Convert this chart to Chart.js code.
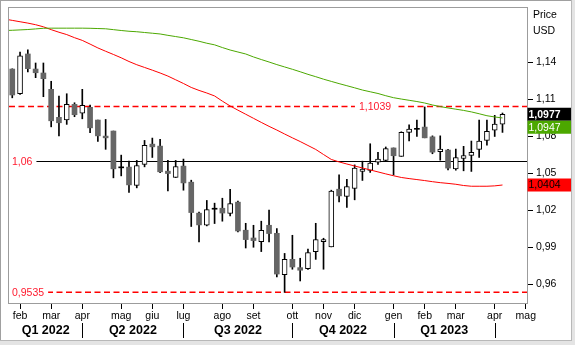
<!DOCTYPE html>
<html>
<head>
<meta charset="utf-8">
<script src="https://cdn.jsdelivr.net/npm/chart.js@4.4.1/dist/chart.umd.min.js"></script>
<style>
html,body{margin:0;padding:0;background:#fff;overflow:hidden}
canvas{display:block}
</style>
</head>
<body>
<canvas id="c" width="575" height="345"></canvas>
<script>
// ---------------- DATA ----------------
const weeks = ['2022-01-24','2022-01-31','2022-02-07','2022-02-14','2022-02-21','2022-02-28','2022-03-07','2022-03-14','2022-03-21','2022-03-28',
'2022-04-04','2022-04-11','2022-04-18','2022-04-25','2022-05-02','2022-05-09','2022-05-16','2022-05-23','2022-05-30','2022-06-06',
'2022-06-13','2022-06-20','2022-06-27','2022-07-04','2022-07-11','2022-07-18','2022-07-25','2022-08-01','2022-08-08','2022-08-15',
'2022-08-22','2022-08-29','2022-09-05','2022-09-12','2022-09-19','2022-09-26','2022-10-03','2022-10-10','2022-10-17','2022-10-24',
'2022-10-31','2022-11-07','2022-11-14','2022-11-21','2022-11-28','2022-12-05','2022-12-12','2022-12-19','2022-12-26','2023-01-02',
'2023-01-09','2023-01-16','2023-01-23','2023-01-30','2023-02-06','2023-02-13','2023-02-20','2023-02-27','2023-03-06','2023-03-13',
'2023-03-20','2023-03-27','2023-04-03','2023-04-10'];

const open = [1.1343,1.1143,1.1465,1.1343,1.1311,1.1179,1.0952,1.0932,1.1057,1.0985,
1.1033,1.0930,1.0800,1.0841,1.0546,1.0549,1.0400,1.0571,1.0735,1.0719,
1.0516,1.0465,1.0557,1.0427,1.0176,1.0078,1.0208,1.0216,1.0173,1.0265,
1.0038,0.9975,0.9946,1.0078,1.0013,0.9678,0.9802,0.9735,0.9727,0.9865,
0.9946,0.9903,1.0370,1.0311,1.0376,1.0514,1.0522,1.0589,1.0603,1.0704,
1.0636,1.0830,1.0855,1.0873,1.0794,1.0673,1.0687,1.0535,1.0619,1.0644,
1.0692,1.0765,1.0849,1.0897];

const high = [1.1345,1.1481,1.1498,1.1392,1.1392,1.1244,1.1124,1.1143,1.1070,1.1179,
1.1052,1.0930,1.0935,1.0841,1.0646,1.0597,1.0603,1.0765,1.0784,1.0773,
1.0603,1.0603,1.0614,1.0443,1.0184,1.0279,1.0257,1.0297,1.0370,1.0273,
1.0094,1.0078,1.0111,1.0200,1.0051,0.9850,0.9997,0.9811,0.9886,1.0094,
0.9973,1.0362,1.0486,1.0451,1.0567,1.0597,1.0738,1.0668,1.0712,1.0704,
1.0835,1.0892,1.0930,1.1036,1.0802,1.0802,1.0692,1.0695,1.0717,1.0760,
1.0930,1.0930,1.0968,1.0987];

const low = [1.1110,1.1138,1.1319,1.1273,1.1119,1.0875,1.0802,1.0895,1.0957,1.0940,
1.0827,1.0757,1.0693,1.0462,1.0478,1.0343,1.0381,1.0551,1.0627,1.0503,
1.0356,1.0465,1.0362,1.0068,0.9943,1.0073,1.0092,1.0111,1.0153,1.0024,
0.9894,0.9900,0.9865,0.9943,0.9659,0.9535,0.9722,0.9627,0.9720,0.9802,
0.9722,0.9903,1.0267,1.0222,1.0284,1.0441,1.0506,1.0571,1.0597,1.0485,
1.0636,1.0762,1.0797,1.0786,1.0657,1.0605,1.0527,1.0524,1.0519,1.0514,
1.0627,1.0727,1.0797,1.0830];

const close = [1.1133,1.1449,1.1346,1.1313,1.1265,1.0924,1.0908,1.1057,1.0973,1.1049,
1.0867,1.0802,1.0786,1.0535,1.0543,1.0405,1.0562,1.0725,1.0713,1.0511,
1.0497,1.0554,1.0421,1.0181,1.0081,1.0205,1.0212,1.0177,1.0254,1.0032,
0.9962,0.9954,1.0038,1.0011,0.9683,0.9802,0.9740,0.9714,0.9857,0.9962,
0.9962,1.0354,1.0316,1.0392,1.0541,1.0532,1.0581,1.0614,1.0698,1.0641,
1.0830,1.0857,1.0859,1.0786,1.0670,1.0695,1.0541,1.0627,1.0643,1.0668,
1.0760,1.0838,1.0897,1.0977];

// moving averages: the first value belongs to the week before the first candle
const maWeeks = ['2022-01-17'].concat(weeks);
const maRed = [1.1748,1.1737,1.1726,1.1715,1.1702,1.1685,1.1662,1.1641,1.1622,1.1597,1.1575,
1.1545,1.1514,1.1487,1.1461,1.1434,1.1404,1.1378,1.1356,1.1334,1.1311,
1.1286,1.1256,1.1226,1.1194,1.1170,1.1149,1.1125,1.1083,1.1044,1.1010,
1.0977,1.0944,1.0911,1.0879,1.0849,1.0817,1.0786,1.0756,1.0724,1.0692,
1.0651,1.0611,1.0591,1.0574,1.0558,1.0542,1.0526,1.0510,1.0494,1.0479,
1.0465,1.0456,1.0448,1.0440,1.0431,1.0423,1.0417,1.0410,1.0400,1.0394,
1.0394,1.0394,1.0397,1.0404];
const maGreen = [1.1655,1.1657,1.1660,1.1663,1.1668,1.1673,1.1674,1.1674,1.1674,1.1674,1.1674,
1.1673,1.1671,1.1669,1.1662,1.1655,1.1649,1.1645,1.1639,1.1633,1.1627,
1.1616,1.1606,1.1596,1.1582,1.1568,1.1552,1.1539,1.1517,1.1497,1.1481,
1.1465,1.1441,1.1420,1.1400,1.1379,1.1360,1.1341,1.1321,1.1300,1.1281,
1.1261,1.1243,1.1225,1.1208,1.1191,1.1173,1.1159,1.1145,1.1127,1.1111,
1.1100,1.1090,1.1080,1.1068,1.1052,1.1039,1.1028,1.1018,1.1008,1.0996,
1.0981,1.0965,1.0955,1.0947];

const monthTickWeeks = ['2022-01-31','2022-02-28','2022-03-28','2022-05-02','2022-05-30','2022-06-27','2022-08-01','2022-08-29',
'2022-10-03','2022-10-31','2022-11-28','2023-01-02','2023-01-30','2023-02-27','2023-04-03','2023-05-01'];
const monthTickLabels = ['feb','mar','apr','mag','giu','lug','ago','set','ott','nov','dic','gen','feb','mar','apr','mag'];
const quarterBreakWeeks = ['2022-03-28','2022-06-27','2022-10-03','2023-01-02','2023-04-03'];
const quarterLabels = ['Q1 2022','Q2 2022','Q3 2022','Q4 2022','Q1 2023'];
const yTicks = [0.96,0.99,1.02,1.05,1.08,1.11,1.14];
const levelValues = [1.1039, 1.06, 0.9535];
const levelLabels = ['1,1039','1,06','0,9535'];
const axisTitle = ['Price','USD'];

// ---------------- HELPERS ----------------
const WEEK = 7*24*3600*1000;
const t0 = Date.parse(weeks[0]+'T00:00:00Z');
function weekIndex(d){ return Math.round((Date.parse(d+'T00:00:00Z') - t0)/WEEK); }
function fmt(v, dec){ return v.toFixed(dec).replace('.', ','); }
const FONT = 'Liberation Sans, Arial, sans-serif';
const RED = '#ff0000';
const GREEN = '#4ca800';
const BEAR = '#666666';
const LABELRED = 'rgb(255,25,45)';

const bodyData = weeks.map((d,i)=>({x: weekIndex(d), y:[open[i], close[i]]}));
const wickData = weeks.map((d,i)=>({x: weekIndex(d), y:[low[i], high[i]]}));
const isDoji = i => Math.abs(close[i]-open[i]) < 0.0006;
const isBull = i => close[i] >= open[i];

// ---------------- PLUGINS ----------------
const levelsPlugin = {
  id: 'levels',
  beforeDatasetsDraw(chart){
    const {ctx, chartArea:a, scales:{y}} = chart;
    ctx.save();
    ctx.beginPath(); ctx.rect(a.left, a.top, a.right-a.left, a.bottom-a.top); ctx.clip();
    ctx.font = '10.5px ' + FONT;
    ctx.textBaseline = 'middle';
    levelValues.forEach((v,k)=>{
      const py = y.getPixelForValue(v);
      const dashed = k !== 1;
      ctx.beginPath();
      ctx.strokeStyle = dashed ? RED : '#000';
      ctx.lineWidth = dashed ? 1.5 : 1;
      ctx.setLineDash(dashed ? [6,3.5] : []);
      const yy = dashed ? py : Math.round(py)+0.5;
      ctx.moveTo(a.left, yy); ctx.lineTo(a.right, yy); ctx.stroke();
      ctx.setLineDash([]);
      const w = ctx.measureText(levelLabels[k]).width;
      let tx;
      if (k === 0) { tx = a.right - 152 - w/2; } else { tx = a.left + 3; }
      ctx.fillStyle = '#fff';
      ctx.fillRect(tx-4, yy-6, w+8, 12);
      ctx.fillStyle = LABELRED;
      ctx.textAlign = 'left';
      ctx.fillText(levelLabels[k], tx, yy+0.5);
    });
    ctx.restore();
  },
  afterDraw(chart){
    const {ctx, chartArea:a, scales:{x,y}} = chart;
    ctx.save();
    // plot frame
    ctx.strokeStyle = '#9c9c9c'; ctx.lineWidth = 1;
    ctx.strokeRect(a.left-0.5, a.top-0.5, a.right-a.left+1, a.bottom-a.top);
    // axis title
    ctx.fillStyle = '#000'; ctx.font = '10.5px ' + FONT; ctx.textAlign='left'; ctx.textBaseline='middle';
    ctx.fillText(axisTitle[0], a.right+6, 15.5);
    ctx.fillText(axisTitle[1], a.right+6, 31);
    // value boxes
    const last = weeks.length-1;
    const boxes = [
      {v: close[last], bg:'#000', fg:'#fff', bold:true},
      {v: maGreen[maGreen.length-1], bg:GREEN, fg:'#fff', bold:false},
      {v: maRed[maRed.length-1], bg:RED, fg:'#000', bold:false}
    ].map(b=>Object.assign(b,{cy:y.getPixelForValue(b.v)})).sort((p,q)=>p.cy-q.cy);
    const bh = 13;
    let prevBottom = -1e9;
    boxes.forEach(b=>{
      let top = b.cy - bh/2;
      if (top < prevBottom) top = prevBottom;
      ctx.fillStyle = b.bg;
      ctx.fillRect(a.right+0.5, top, 45, bh);
      ctx.fillStyle = b.fg;
      ctx.font = (b.bold?'bold ':'') + '10.5px ' + FONT;
      ctx.textBaseline = 'middle';
      ctx.fillText(fmt(b.v,4), a.right+1.5, top+bh/2+0.5);
      prevBottom = top + bh;
    });
    // quarter separators and labels
    ctx.strokeStyle = '#000'; ctx.lineWidth = 1;
    const breaks = quarterBreakWeeks.map(d=>x.getPixelForValue(weekIndex(d)));
    breaks.forEach(px=>{
      const xx = Math.round(px)+0.5;
      ctx.beginPath(); ctx.moveTo(xx, 323); ctx.lineTo(xx, 338); ctx.stroke();
    });
    ctx.font = 'bold 12.5px ' + FONT; ctx.textAlign='center'; ctx.textBaseline='middle';
    quarterLabels.forEach((q,k)=>{
      const l = k===0 ? a.left : breaks[k-1];
      const r = breaks[k];
      ctx.fillText(q, (l+r)/2, 330.5);
    });
    // outer frame
    ctx.fillStyle = '#a0a0a0';
    ctx.fillRect(0,0,575,1);
    ctx.fillRect(0,0,1,345);
    ctx.fillStyle = '#e4e4e4';
    ctx.fillRect(572,0,3,345);
    ctx.fillRect(0,341,575,4);
    ctx.fillStyle = '#b8b8b8';
    ctx.fillRect(571,0,1,341);
    ctx.fillRect(0,340,572,1);
    ctx.restore();
  }
};

// ---------------- CHART ----------------
new Chart(document.getElementById('c'), {
  type: 'bar',
  data: {
    datasets: [
      {
        type: 'line', label: 'MA green', order: 1,
        data: maWeeks.map((d,i)=>({x: weekIndex(d), y: maGreen[i]})),
        borderColor: GREEN, borderWidth: 1, pointRadius: 0, tension: 0, fill: false
      },
      {
        type: 'line', label: 'MA red', order: 1,
        data: maWeeks.map((d,i)=>({x: weekIndex(d), y: maRed[i]})),
        borderColor: RED, borderWidth: 1, pointRadius: 0, tension: 0, fill: false
      },
      {
        label: 'body', order: 2, grouped: false,
        data: bodyData,
        barThickness: 5, minBarLength: 1,
        borderSkipped: false,
        backgroundColor: weeks.map((d,i)=> isDoji(i) ? '#000' : (isBull(i) ? '#fff' : BEAR)),
        borderColor: weeks.map((d,i)=> isDoji(i) ? '#000' : (isBull(i) ? '#000' : BEAR)),
        borderWidth: weeks.map((d,i)=> isDoji(i) ? 0 : (isBull(i) ? 1 : 0))
      },
      {
        label: 'wick', order: 3, grouped: false,
        data: wickData,
        barThickness: 1, borderSkipped: false,
        backgroundColor: '#000', borderWidth: 0
      }
    ]
  },
  options: {
    responsive: false,
    devicePixelRatio: 1,
    animation: false,
    events: [],
    layout: { padding: { left: 9, top: 8, right: 0, bottom: 0 } },
    plugins: { legend: { display: false }, tooltip: { enabled: false } },
    scales: {
      x: {
        type: 'linear',
        offset: false,
        bounds: 'data',
        min: -0.42, max: 66.15,
        border: { display: false },
        grid: { offset: false, drawOnChartArea: false, drawTicks: true, tickLength: 5, tickColor: '#000', color: '#000' },
        ticks: {
          autoSkip: false, maxRotation: 0, padding: 1, color: '#000',
          font: { family: FONT, size: 10.5 },
          callback: (v) => { const k = monthTickWeeks.findIndex(d=>weekIndex(d)===v); return k>=0 ? monthTickLabels[k] : ''; }
        },
        afterBuildTicks: (s) => { s.ticks = monthTickWeeks.map(d=>({value: weekIndex(d)})); },
        afterFit: (s) => { s.height = 41; s.paddingLeft = 0; s.paddingRight = 0; }
      },
      y: {
        position: 'right',
        bounds: 'data',
        min: 0.94405, max: 1.18373,
        border: { display: false },
        grid: { drawOnChartArea: false, drawTicks: true, tickLength: 6, tickColor: '#000', color: '#000' },
        ticks: {
          padding: 3, color: '#000',
          font: { family: FONT, size: 10.5 },
          callback: (v) => fmt(v, 2)
        },
        afterBuildTicks: (s) => { s.ticks = yTicks.map(v=>({value: v})); },
        afterFit: (s) => { s.width = 48; s.paddingTop = 0; s.paddingBottom = 0; }
      }
    }
  },
  plugins: [levelsPlugin]
});
</script>
</body>
</html>
